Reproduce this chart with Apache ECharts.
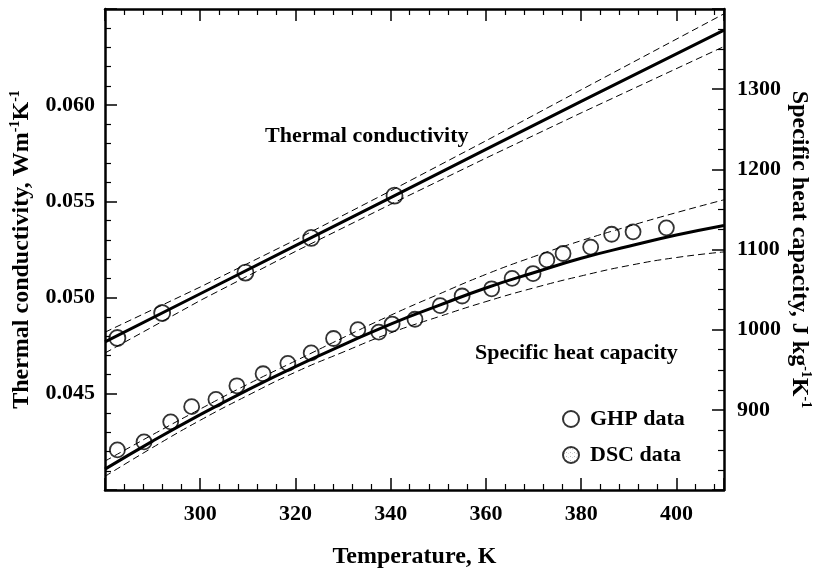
<!DOCTYPE html>
<html>
<head>
<meta charset="utf-8">
<script src="https://cdn.jsdelivr.net/npm/echarts@6/dist/echarts.min.js"></script>
<style>
html, body { margin: 0; padding: 0; background: #fff; }
#chart { width: 821px; height: 576px; }
</style>
</head>
<body>
<div id="chart"></div>
<script>
// fitted curves and bands
const kT = [280, 300, 320, 340, 360, 380, 410]
const kFit = [0.0477, 0.0502, 0.0527, 0.0552, 0.0577, 0.0602, 0.0639]
const kUpper = [0.0482, 0.05055, 0.0530, 0.05555, 0.05815, 0.0608, 0.06475]
const kLower = [0.04712, 0.04985, 0.0524, 0.05485, 0.05725, 0.0596, 0.06305]

const cpT = [280, 290, 300, 310, 320, 330, 340, 350, 360, 370, 380, 390, 400, 410]
const cpFit = [826, 861, 894, 925, 954, 981, 1007, 1030, 1052, 1071, 1089, 1104, 1118, 1130]
const cpUpper = [836, 869, 901, 932, 961, 990, 1018, 1044, 1069, 1091, 1111, 1129, 1146, 1162]
const cpLower = [817, 853, 887, 918, 947, 972, 996, 1016, 1035, 1052, 1067, 1080, 1090, 1097]

// measured points
const ghpT = [282.6, 292.0, 309.5, 323.3, 340.8]
const ghpK = [0.0479, 0.0492, 0.0513, 0.0531, 0.0553]

const dscT = [282.6, 288.2, 293.8, 298.2, 303.3, 307.7, 313.2, 318.4, 323.3, 328.0, 333.1, 337.5, 340.3,
  345.1, 350.4, 355.0, 361.2, 365.5, 369.9, 372.8, 376.2, 382.0, 386.4, 390.9, 397.9]
const dscCp = [850, 860, 885, 904, 913, 930, 945, 958, 971, 989, 1000, 997, 1007,
  1013, 1030, 1042, 1051, 1064, 1070, 1087, 1095, 1103, 1119, 1122, 1127]

const zip = (xs, ys) => xs.map((x, i) => [x, ys[i]])

const serif = 'Liberation Serif'
const labelFont = { fontFamily: serif, fontWeight: 'bold', fontSize: 22, color: '#000' }
const titleFont = {
  fontFamily: serif, fontWeight: 'bold', fontSize: 24, lineHeight: 28, color: '#000',
  rich: { sup: { fontFamily: serif, fontWeight: 'bold', fontSize: 14, lineHeight: 14, verticalAlign: 'top', color: '#000' } }
}
const frame = { show: true, onZero: false, lineStyle: { color: '#000', width: 2.5 } }
const tick = { show: true, inside: true, length: 12, lineStyle: { color: '#000', width: 1.5 } }
const minor = (n) => ({ show: true, splitNumber: n, length: 6, lineStyle: { color: '#000', width: 1.2 } })

// stippled fill for DSC circles
const dots = document.createElement('canvas')
dots.width = dots.height = 4
const g = dots.getContext('2d')
g.fillStyle = '#fff'
g.fillRect(0, 0, 4, 4)
g.fillStyle = '#a8a8a8'
g.fillRect(1, 1, 1, 1)
g.fillStyle = '#cfcfcf'
g.fillRect(3, 2, 1, 1)

function line(data, yAxisIndex, width, dashed) {
  return {
    type: 'line', data, yAxisIndex, symbol: 'none', silent: true, smooth: yAxisIndex === 1,
    lineStyle: { color: '#000', width, type: dashed ? [7, 4] : 'solid' }
  }
}

const chart = echarts.init(document.getElementById('chart'), null, { renderer: 'canvas' })
chart.setOption({
  animation: false,
  backgroundColor: '#fff',
  grid: { left: 105, right: 96, top: 9, bottom: 81 },
  xAxis: [{
    type: 'value', min: 280, max: 410, interval: 20, position: 'bottom',
    axisLine: frame, axisTick: tick, minorTick: minor(5), splitLine: { show: false },
    axisLabel: { ...labelFont, margin: 13, showMinLabel: false, showMaxLabel: false, formatter: v => String(v) },
    name: 'Temperature, K', nameLocation: 'middle', nameGap: 53, nameTextStyle: titleFont
  }, {
    type: 'value', min: 280, max: 410, interval: 20, position: 'top',
    axisLine: frame, axisTick: tick, minorTick: minor(5), splitLine: { show: false },
    axisLabel: { show: false }
  }],
  yAxis: [{
    type: 'value', min: 0.040, max: 0.065, interval: 0.005, position: 'left',
    axisLine: frame, axisTick: tick, minorTick: minor(5), splitLine: { show: false },
    axisLabel: { ...labelFont, margin: 10, showMinLabel: false, showMaxLabel: false, formatter: v => v.toFixed(3) },
    name: 'Thermal conductivity, Wm{sup|-1}K{sup|-1}', nameLocation: 'middle', nameRotate: 90,
    nameGap: 69, nameTextStyle: titleFont, nameMoveOverlap: false
  }, {
    type: 'value', min: 800, max: 1400, interval: 100, position: 'right',
    axisLine: frame, axisTick: tick, minorTick: minor(4), splitLine: { show: false },
    axisLabel: { ...labelFont, margin: 13, showMinLabel: false, showMaxLabel: false, formatter: v => String(v) },
    name: 'Specific heat capacity, J kg{sup|-1}K{sup|-1}', nameLocation: 'middle', nameRotate: -90,
    nameGap: 61, nameTextStyle: titleFont, nameMoveOverlap: false
  }],
  legend: {
    data: ['GHP data', 'DSC data'], orient: 'vertical', left: 557, top: 403,
    itemWidth: 28, itemHeight: 16, itemGap: 14, icon: 'circle',
    textStyle: { ...labelFont, lineHeight: 22 }
  },
  graphic: [
    { type: 'text', x: 265, y: 136, style: { text: 'Thermal conductivity', font: `bold 22px "${serif}"`, fill: '#000', verticalAlign: 'middle' } },
    { type: 'text', x: 475, y: 353, style: { text: 'Specific heat capacity', font: `bold 22px "${serif}"`, fill: '#000', verticalAlign: 'middle' } }
  ],
  series: [
    line(zip(kT, kUpper), 0, 1, true),
    line(zip(kT, kLower), 0, 1, true),
    line(zip(kT, kFit), 0, 3, false),
    line(zip(cpT, cpUpper), 1, 1, true),
    line(zip(cpT, cpLower), 1, 1, true),
    line(zip(cpT, cpFit), 1, 3, false),
    {
      name: 'GHP data', type: 'scatter', yAxisIndex: 0, symbol: 'circle', symbolSize: 16,
      data: zip(ghpT, ghpK),
      itemStyle: { color: '#fff', borderColor: '#000', borderWidth: 1.8 }
    },
    {
      name: 'DSC data', type: 'scatter', yAxisIndex: 1, symbol: 'circle', symbolSize: 15,
      data: zip(dscT, dscCp).map(p => p[0] > 385 ? { value: p, itemStyle: { color: '#fff' } } : p),
      itemStyle: { color: { image: dots, repeat: 'repeat' }, borderColor: '#000', borderWidth: 1.8 }
    }
  ]
})
</script>
</body>
</html>
